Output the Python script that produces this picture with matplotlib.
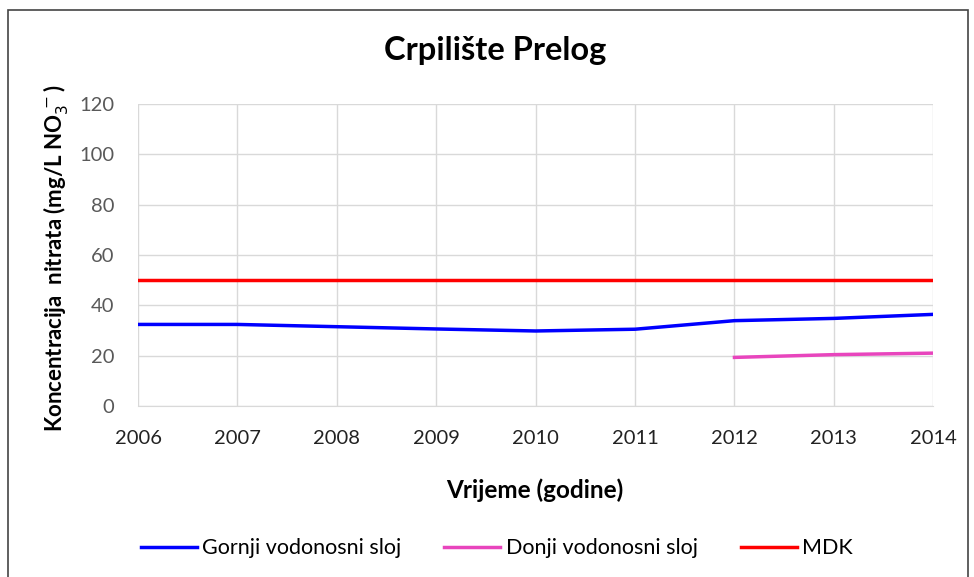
import matplotlib.pyplot as plt
from matplotlib.patches import Rectangle

years = [2006, 2007, 2008, 2009, 2010, 2011, 2012, 2013, 2014]
gornji = [32.4, 32.4, 31.5, 30.6, 29.8, 30.5, 33.9, 34.8, 36.4]
donji_years = [2012, 2013, 2014]
donji = [19.3, 20.4, 21.0]
mdk = [50] * len(years)

plt.rcParams['font.family'] = ['Lato', 'DejaVu Sans']

fig = plt.figure(figsize=(9.74, 5.77), dpi=100)
ax = fig.add_axes([0.1417, 0.2964, 0.8165, 0.5234])

fig.patches.append(Rectangle((0.008, -0.01), 0.986, 0.993, transform=fig.transFigure,
                             fill=False, edgecolor='#444444', linewidth=1.2))

ax.plot(years, gornji, color='#0000ff', linewidth=2.5, label='Gornji vodonosni sloj')
ax.plot(donji_years, donji, color='#e845bd', linewidth=2.5, label='Donji vodonosni sloj')
ax.plot(years, mdk, color='#ff0000', linewidth=2.5, label='MDK')

ax.set_xlim(2006, 2014)
ax.set_ylim(0, 120)
ax.set_xticks(years)
ax.set_yticks(range(0, 121, 20))
ax.grid(True, color='#d9d9d9', linewidth=1)
ax.set_axisbelow(True)
for s in ['top', 'right', 'left']:
    ax.spines[s].set_visible(False)
ax.spines['bottom'].set_color('#d9d9d9')
ax.tick_params(length=0)
ax.tick_params(axis='y', labelcolor='#595959', labelsize=14.5, pad=17)
ax.tick_params(axis='x', labelcolor='#222222', labelsize=14.5, pad=17)

fig.text(0.508, 0.913, 'Crpilište Prelog', ha='center', va='center',
         fontsize=23.5, fontweight='bold')
fig.text(0.057, 0.553, 'Koncentracija  nitrata (mg/L NO$_3^{\\,-}$)', rotation=90,
         ha='center', va='center', fontsize=16, fontweight='bold')
fig.text(0.549, 0.151, 'Vrijeme (godine)', ha='center', va='center',
         fontsize=17.5, fontweight='bold')

fig.legend(loc='center', bbox_to_anchor=(0.51, 0.05), ncol=3, frameon=False,
           fontsize=15.5, handlelength=2.6, columnspacing=2.0, handletextpad=0.25)

fig.savefig('out.png', dpi=100)
